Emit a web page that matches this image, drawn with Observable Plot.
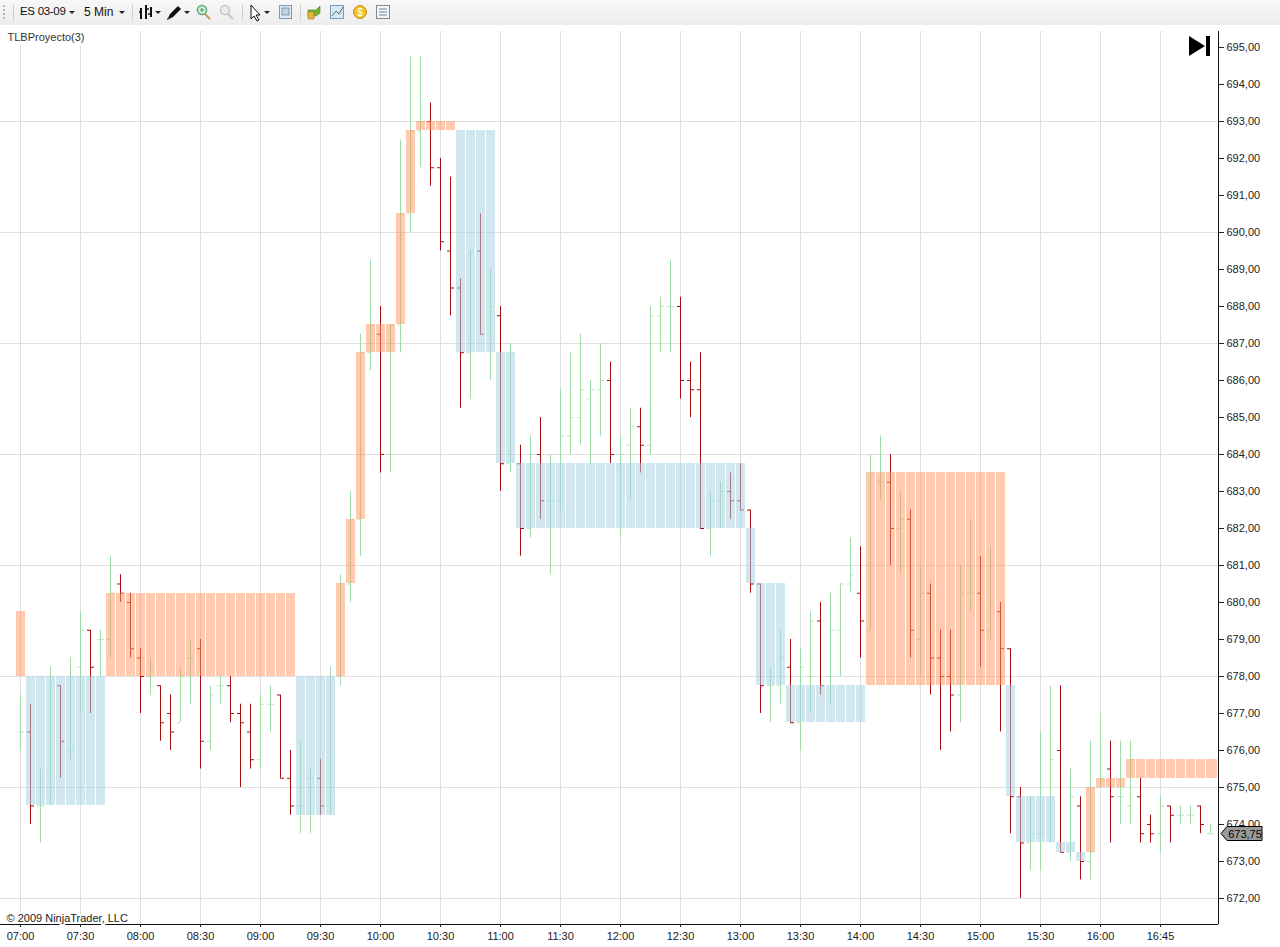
<!DOCTYPE html>
<html><head><meta charset="utf-8">
<script src="https://cdn.jsdelivr.net/npm/d3@7"></script>
<script src="https://cdn.jsdelivr.net/npm/@observablehq/plot@0.6"></script>
<style>
html,body{margin:0;padding:0;background:#fff;overflow:hidden;width:1280px;height:947px}
#wrap{position:relative;width:1280px;height:947px}
#bar{position:absolute;left:0;top:0;width:1280px;height:25px;background:linear-gradient(#f8f8f8,#ececec);}
#bar span{position:absolute;top:5px;font:12px "Liberation Sans",Arial,sans-serif;color:#111;white-space:nowrap}
#bar svg{position:absolute;left:0;top:0}
#chart{position:absolute;left:0;top:25px}
#chart svg{display:block}
#skip{position:absolute;left:1186px;top:33px}
</style></head><body>
<div id="wrap">
<div id="bar">
<svg width="400" height="25" viewBox="0 0 400 25">
  <g fill="#b5b5b5"><rect x="3" y="5" width="2" height="2"/><rect x="3" y="9" width="2" height="2"/><rect x="3" y="13" width="2" height="2"/><rect x="3" y="17" width="2" height="2"/></g>
  <g stroke="#cfcfcf"><line x1="13.5" y1="4" x2="13.5" y2="21"/><line x1="132.5" y1="4" x2="132.5" y2="21"/><line x1="242.5" y1="4" x2="242.5" y2="21"/><line x1="300.5" y1="4" x2="300.5" y2="21"/></g>
  <g fill="#222"><path d="M69 11h6l-3 3z"/><path d="M119 11h6l-3 3z"/><path d="M155 11h6l-3 3z"/><path d="M184 11h6l-3 3z"/><path d="M264 11h6l-3 3z"/></g>
  <g stroke="#111" stroke-width="2" fill="none"><path d="M141 8v11M146 5v14M151 7v10"/><path d="M139 12h2M146 9h3M151 14h-3" stroke-width="1.5"/></g>
  <path d="M167 20l3-6 8-8 3 3-8 8z" fill="#111"/><path d="M167 20l3-1-2-2z" fill="#555"/>
  <circle cx="202" cy="10" r="4.5" fill="#d8efe0" stroke="#59a878" stroke-width="1.5"/><path d="M200 10h4M202 8v4" stroke="#2c9a58"/><path d="M205 14l5 5" stroke="#c59a55" stroke-width="2"/>
  <circle cx="225" cy="10" r="4.5" fill="#ececec" stroke="#c6c6c6" stroke-width="1.5"/><path d="M228 14l5 5" stroke="#c8c8c8" stroke-width="2"/>
  <path d="M251 5v14l3-3 3 5 2-1-3-5h4z" fill="#fff" stroke="#111"/>
  <rect x="279.5" y="5.5" width="12" height="13" fill="#dfe9f3" stroke="#7f99b5"/><rect x="282" y="8" width="7" height="7" fill="#c3d3e2" stroke="#5e7c9a" stroke-width=".7"/>
  <path d="M308 10h8l4-4v7l-4 3h-8z" fill="#72b32e" stroke="#49801c" stroke-width=".6"/><path d="M308 12h6v7h-6z" fill="#e6b43c" stroke="#a77c1c" stroke-width=".6"/>
  <rect x="330.500" y="5.500" width="13" height="13" fill="#dbe7f4" stroke="#7f99b5"/><path d="M332 16l4-5 3 3 4-7" stroke="#3a7f6a" fill="none"/>
  <circle cx="360" cy="12" r="6.500" fill="#f0c030" stroke="#c7901a"/><text x="360" y="16" text-anchor="middle" font-size="10" font-family="Liberation Sans" fill="#fff">$</text>
  <rect x="376.500" y="5.500" width="13" height="13" fill="#f4f6f8" stroke="#7a8a9a"/><path d="M379 9h8M379 12h8M379 15h8" stroke="#6d84a0"/>
</svg>
<span style="left:20px;font-size:11.5px;letter-spacing:-.3px">ES 03-09</span>
<span style="left:84px">5 Min</span>
</div>
<div id="chart"></div>
<svg id="skip" width="28" height="26" viewBox="0 0 28 26"><path d="M3 3l16 10-16 10z" fill="#000"/><rect x="20" y="3" width="4" height="20" fill="#000"/></svg>
</div>
<script>
const barHigh=[677.5,677.25,675.5,678.25,677.75,678.5,679.75,679.25,679.25,681.25,680.75,680.25,678.75,678.5,677.75,677.5,678.25,679,679,677.75,678,678,677.25,677.25,677.5,677.75,677.5,676,676.25,675.5,675.75,678.25,680.75,683,687.25,689.25,688,687.5,692.5,694.75,694.75,693.5,692,691.5,688.75,689.5,690.5,689,688,687,684.25,684.5,685,684,685.75,686.75,687.25,686,687,686.5,684.5,685.25,685.25,688,688.25,689.25,688.25,686.5,686.75,683,683.25,683.5,683.75,682.5,680.5,678.25,679.25,679,678.75,679.75,680,680.25,680.5,681.75,681.5,684,684.5,684,683,682.5,681,680.5,679.25,679.25,681,682.25,681.25,681.5,680,678.75,675,674.75,676.5,677.75,677.75,675.5,674.75,676.25,677,676.25,676.25,676.25,675.25,674.25,674.75,674.5,674.5,674.5,674.5,674];
const barLow=[676,674,673.5,674.5,675.25,675.75,677,677,678,678.5,680,678.5,677,677.5,676.25,676,676.75,677.25,675.5,676,677.25,676.75,675,675.5,675.5,676.5,675.25,674.25,673.75,673.75,674.25,674.25,677.75,680,681.25,686.25,683.5,683.5,686.75,690,691.75,691.25,689.5,687.75,685.25,685.5,687.25,686,683,683.5,681.25,681.75,682.25,680.75,682.5,684,684.25,683.75,684.5,683.75,681.75,682.75,683.5,684,686.75,686.75,685.5,685,682,681.25,682,682.25,682.5,680.25,677,676.75,677.25,676.75,676,677,677.5,677.25,678,680.25,678.5,679.25,682.75,681,680.75,678.5,678,677.5,676,676.5,676.75,679.75,678.25,679,676.5,673.75,672,672.75,672.75,673.5,673.25,673,672.5,672.5,675,673.5,674,674,673.5,673.5,673.25,673.5,674,674,673.75,673.75];
const barOpen=[676.5,676.5,674.5,674.75,677.75,676,678.25,679.25,679,679,680.5,680,678.5,678,677.75,677,676.75,678.5,678.75,676.25,677.75,677.75,677,676.5,675.75,677.25,677.5,675.25,674.5,675.25,675.25,674.5,678,680.5,682.25,686.75,687.25,684,687.5,690.5,692.75,693,691.75,689.5,688.5,686.75,689.5,687.25,687.75,683.75,683.75,682,684,682.75,682.75,684.5,685,685.5,685.75,686,683.75,684.25,684.75,684.25,687.75,688,688,686,685.75,682,682.75,683,682.75,682.5,680.5,677.75,677.75,678.25,676.75,678,679.5,678,679.25,680.5,680.25,679.25,683.25,683.25,682,682.25,679,680.25,678.5,678,677.5,680.25,680.25,679.25,679.75,678.75,674.75,673.5,673.75,673.75,676,673.25,674.5,673,675,675.5,674.75,674.5,674.75,674,673.75,674.5,674.25,674.25,674.5,673.75];
const barClose=[676.5,674.5,674.5,677.75,676.25,676,679.25,678.25,679,680.25,680.25,678.75,678,678.25,676.75,676.5,678,678.5,676.25,677.5,677.75,677,676.75,675.75,677.25,677.25,675.25,674.5,674.5,675.25,674.5,678,680.5,682.25,686.75,687.5,684,687.5,690.5,692.75,693,691.75,689.75,688.5,686.75,689.5,687.25,688,683.75,686.75,682,684,682.75,682.75,684.5,685,685.75,685.75,686,684,684,684.75,684.25,687.75,688,688,686,685.75,682,682.75,683,682.75,682.5,680.5,677.75,677.75,678.5,676.75,678.25,679.5,677.75,679.25,680.5,680.75,679.5,683.5,683.25,682,682.25,679.25,680.25,678.5,678,677.5,680.25,680.25,679.25,680,678.75,674.75,673.5,673.75,673.75,675.75,673.25,674.75,673,673.25,675.25,674.75,674.75,675.75,673.75,673.75,674.5,674.25,674.25,674.25,674,673.75];
const barDirection=[
"u","d","u","u","d","u","u","d","u","u",
"d","d","d","u","d","d","u","u","d","u",
"u","d","d","d","u","u","d","d","u","u",
"d","u","u","u","u","u","d","u","u","u",
"u","d","d","d","d","u","d","u","d","u",
"d","u","d","u","u","u","u","u","u","d",
"u","u","d","u","u","u","d","d","d","u",
"u","d","d","d","d","u","u","d","u","u",
"d","u","u","u","d","u","u","d","u","d",
"u","d","d","d","u","u","d","u","d","d",
"d","u","u","u","d","u","d","u","u","d",
"u","u","d","d","u","d","u","u","d","u"];
// Box runs: first bar, last bar, top price, bottom price, kind
const runFirst=[0,1,9,28,32,33,34,35,38,39,40,44,48,50,73,74,77,85,99,100,104,106,107,108,111];
const runLast=[0,8,27,31,32,33,34,37,38,39,43,47,49,72,73,76,84,98,99,103,105,106,107,110,119];
const runTop=[679.75,678,680.25,678,680.5,682.25,686.75,687.5,690.5,692.75,693,692.75,686.75,683.75,682,680.5,677.75,683.5,677.75,674.75,673.5,673.25,675,675.25,675.75];
const runBottom=[678,674.5,678,674.25,678,680.5,682.25,686.75,687.5,690.5,692.75,686.75,683.75,682,680.5,677.75,676.75,677.75,674.75,673.5,673.25,673,673.25,675,675.25];
const runKind=["o","b","o","b","o","o","o","o","o","o","o","b","b","b","b","b","b","o","b","b","b","b","o","o","o"];
const timeIndex=[0,6,12,18,24,30,36,42,48,54,60,66,72,78,84,90,96,102,108,114];
const timeLabels=["07:00","07:30","08:00","08:30","09:00","09:30","10:00","10:30","11:00","11:30","12:00","12:30","13:00","13:30","14:00","14:30","15:00","15:30","16:00","16:45"];
const priceTicks=d3.range(672,696);
const priceGrid=[672,675,678,681,684,687,690,693];
const lastPrice=673.75;
const indicatorName="TLBProyecto(3)";
const copyright="© 2009 NinjaTrader, LLC";

const bars=barHigh.map((h,i)=>({i,high:h,low:barLow[i],open:barOpen[i],close:barClose[i],dir:barDirection[i]}));
const boxes=runFirst.flatMap((f,r)=>d3.range(f,runLast[r]+1).map(i=>({i,top:runTop[r],bottom:runBottom[r],kind:runKind[r]})));
const fmt=d=>d.toFixed(2).replace(".",",");
const font='"Liberation Sans",Arial,sans-serif';
const yBottom=671.297,yTop=695.432,xLeft=-2,xRight=119.8;
const lastBar=barHigh.length-1;

const marker=(index,{y},values,dims)=>{
  const x0=dims.width-dims.marginRight+3,v=Math.round(y(lastPrice))+0.5;
  const g=d3.create("svg:g");
  g.append("path").attr("d",`M${x0} ${v}l6 -7h35v14h-35z`).attr("fill","#9a9a9a").attr("stroke","#000").attr("stroke-width",1);
  g.append("text").attr("x",x0+24).attr("y",v+4).attr("text-anchor","middle").attr("font-size",11).attr("font-family",font).attr("fill","#000").text(fmt(lastPrice));
  return g.node();
};
const upColor="#9fdcaa",downColor="#a50f0f";
const colorOf=d=>d.dir==="u"?upColor:downColor;
const tickOpacity=d=>d.dir==="u"?0.7:1;

const chart=Plot.plot({
  width:1280,height:922,marginTop:6,marginLeft:0,marginRight:62,marginBottom:23,
  style:{background:"#fff",fontFamily:font,fontSize:"11px",color:"#222"},
  x:{type:"linear",domain:[xLeft,xRight],axis:null},
  y:{type:"linear",domain:[yBottom,yTop],axis:null},
  marks:[
    Plot.ruleX(timeIndex,{stroke:"#dfdfdf"}),
    Plot.ruleY(priceGrid,{stroke:"#dfdfdf"}),
    Plot.ruleX(bars,{x:"i",y1:"low",y2:"high",stroke:colorOf,strokeWidth:1}),
    Plot.ruleY(bars,{y:"open",x1:d=>d.i-0.3,x2:d=>d.i,stroke:colorOf,strokeOpacity:tickOpacity,strokeWidth:1}),
    Plot.ruleY(bars,{y:"close",x1:d=>d.i,x2:d=>d.i+0.4,stroke:colorOf,strokeOpacity:tickOpacity,strokeWidth:1}),
    Plot.rect(boxes,{x1:d=>d.i-0.4,x2:d=>d.i===lastBar?xRight-0.1:d.i+0.5,y1:"bottom",y2:"top",
      fill:d=>d.kind==="o"?"#ff9966":"#a9d4e4",fillOpacity:d=>d.kind==="o"?0.52:0.55,clip:true,inset:0,shapeRendering:"crispEdges"}),
    Plot.ruleX([xRight],{stroke:"#111"}),
    Plot.ruleY([yBottom],{stroke:"#111"}),
    Plot.axisY(priceTicks,{anchor:"right",tickSize:5,tickPadding:3,tickFormat:fmt,label:null,fontSize:11,color:"#222"}),
    Plot.axisX(timeIndex,{anchor:"bottom",tickSize:3,tickPadding:5,tickFormat:d=>timeLabels[timeIndex.indexOf(d)],label:null,fontSize:11,color:"#222"}),
    Plot.text([indicatorName],{frameAnchor:"top-left",dx:7,dy:6,lineAnchor:"middle",textAnchor:"start",fontSize:11,fill:"#333",stroke:"#fff",strokeWidth:6}),
    Plot.text([copyright],{frameAnchor:"bottom-left",dx:6,dy:-6,lineAnchor:"middle",textAnchor:"start",fontSize:11,fill:"#222",stroke:"#fff",strokeWidth:4}),
    marker
  ]
});
document.getElementById("chart").appendChild(chart);
</script>
</body></html>
